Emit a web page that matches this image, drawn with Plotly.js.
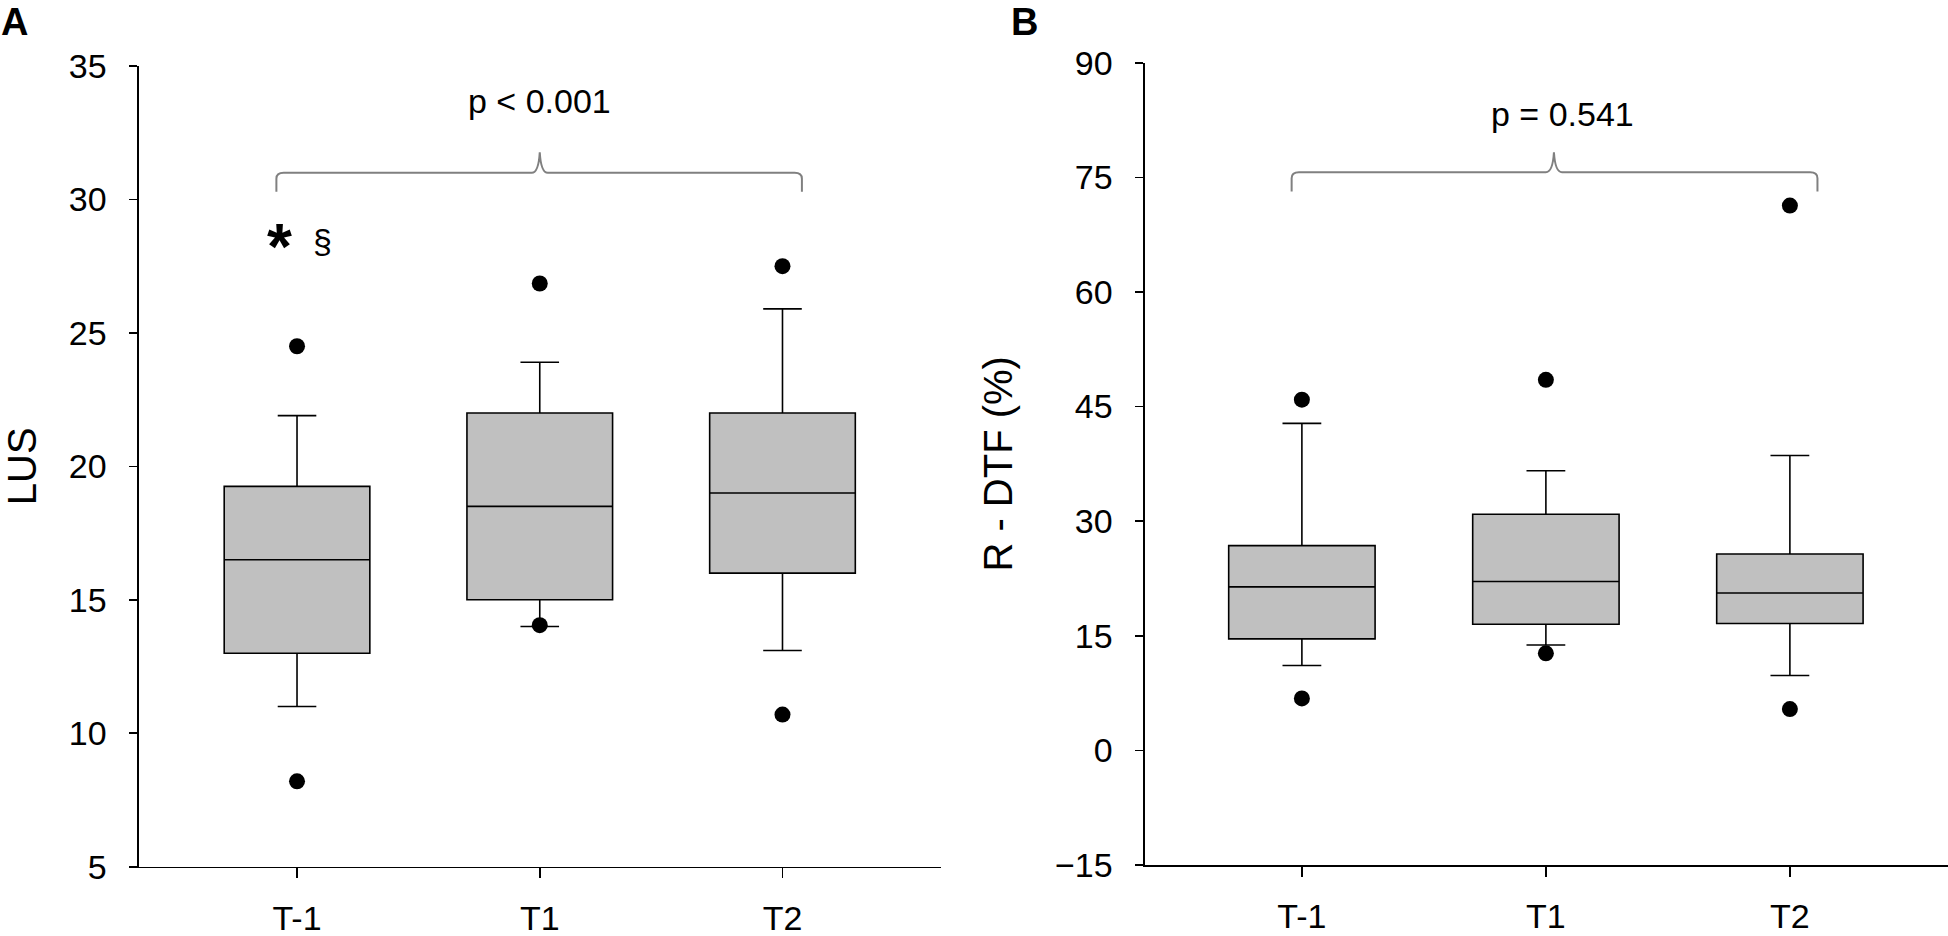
<!DOCTYPE html>
<html>
<head>
<meta charset="utf-8">
<script src="https://cdn.plot.ly/plotly-3.0.1.min.js"></script>
<style>
  html, body { margin: 0; padding: 0; background: #fff; }
  #chart { width: 1948px; height: 936px; }
</style>
</head>
<body>
<div id="chart"></div>
<script>
// ---------- data ----------
const categories = ['T-1', 'T1', 'T2'];

// Panel A: LUS
const lusQ1 = [13, 15, 16];
const lusMedian = [16.5, 18.5, 19];
const lusQ3 = [19.25, 22, 22];
const lusLowerWhisker = [11, 14, 13.1];
const lusUpperWhisker = [21.9, 23.9, 25.9];
const lusOutliers = [[24.5, 8.2], [26.85, 14.05], [27.5, 10.7]];

// Panel B: R - DTF (%)
const dtfQ1 = [14.6, 16.5, 16.6];
const dtfMedian = [21.4, 22.1, 20.6];
const dtfQ3 = [26.8, 30.9, 25.7];
const dtfLowerWhisker = [11.1, 13.8, 9.8];
const dtfUpperWhisker = [42.8, 36.6, 38.6];
const dtfOutliers = [[45.9, 6.8], [48.5, 12.7], [71.3, 5.4]];

const pTexts = ['p < 0.001', 'p = 0.541'];
const axisTitles = ['LUS', 'R - DTF (%)'];
const panelLetters = ['A', 'B'];
const significanceMarks = ['*', '§'];

// ---------- helpers ----------
const W = 1948, H = 936;
const FONT = 'Liberation Sans, Arial, Helvetica, sans-serif';
const positions = categories.map((_, i) => i);

function flattenOutliers(out) {
  const xs = [], ys = [];
  out.forEach((vals, i) => vals.forEach(v => { xs.push(i); ys.push(v); }));
  return { xs, ys };
}

function boxTrace(xa, ya, q1, med, q3, lo, hi) {
  return {
    type: 'box', xaxis: xa, yaxis: ya, orientation: 'v',
    x: positions, q1: q1, median: med, q3: q3,
    lowerfence: lo, upperfence: hi,
    width: 0.6, whiskerwidth: 0.265,
    fillcolor: '#c0c0c0',
    line: { color: '#000000', width: 1.6 },
    boxpoints: false, hoverinfo: 'skip', showlegend: false
  };
}

function outlierTrace(xa, ya, out) {
  const f = flattenOutliers(out);
  return {
    type: 'scatter', mode: 'markers', xaxis: xa, yaxis: ya,
    x: f.xs, y: f.ys,
    marker: { color: '#000000', size: 16, line: { width: 0 } },
    hoverinfo: 'skip', showlegend: false
  };
}

function bracePath(x0, x1, xm, yl, ye, yt, rx, ry, tx) {
  return 'M ' + x0 + ',' + ye +
    ' L ' + x0 + ',' + (yl - ry) +
    ' Q ' + x0 + ',' + yl + ' ' + (x0 + rx) + ',' + yl +
    ' L ' + (xm - tx) + ',' + yl +
    ' Q ' + (xm - 0.15 * tx) + ',' + yl + ' ' + xm + ',' + yt +
    ' Q ' + (xm + 0.15 * tx) + ',' + yl + ' ' + (xm + tx) + ',' + yl +
    ' L ' + (x1 - rx) + ',' + yl +
    ' Q ' + x1 + ',' + yl + ' ' + x1 + ',' + (yl - ry) +
    ' L ' + x1 + ',' + ye;
}

const data = [
  boxTrace('x', 'y', lusQ1, lusMedian, lusQ3, lusLowerWhisker, lusUpperWhisker),
  outlierTrace('x', 'y', lusOutliers),
  boxTrace('x2', 'y2', dtfQ1, dtfMedian, dtfQ3, dtfLowerWhisker, dtfUpperWhisker),
  outlierTrace('x2', 'y2', dtfOutliers)
];

const xCommon = {
  tickvals: positions, ticktext: categories,
  showline: true, linecolor: '#000', linewidth: 1.6,
  ticks: 'outside', ticklen: 10, tickwidth: 1.6, tickcolor: '#000',
  showgrid: false, zeroline: false,
  tickfont: { size: 34, color: '#000', family: FONT },
  ticklabelstandoff: 11, fixedrange: true
};
const yCommon = {
  showline: true, linecolor: '#000', linewidth: 1.6,
  ticks: 'outside', ticklen: 8, tickwidth: 1.6, tickcolor: '#000',
  showgrid: false, zeroline: false,
  tickfont: { size: 34, color: '#000', family: FONT },
  ticklabelstandoff: 16, fixedrange: true
};

const layout = {
  width: W, height: H, autosize: false,
  margin: { l: 0, r: 0, t: 0, b: 0, pad: 0 },
  paper_bgcolor: '#ffffff', plot_bgcolor: '#ffffff',
  font: { family: FONT, color: '#000' },
  showlegend: false, hovermode: false,
  xaxis: Object.assign({}, xCommon, {
    domain: [139 / W, 941 / W], range: [-0.651, 2.653], anchor: 'y'
  }),
  yaxis: Object.assign({}, yCommon, {
    domain: [1 - 866.7 / H, 1 - 66 / H], range: [5, 35], tick0: 5, dtick: 5, anchor: 'x',
    title: { text: axisTitles[0], font: { size: 40, family: FONT, color: '#000' }, standoff: 32 }
  }),
  xaxis2: Object.assign({}, xCommon, {
    domain: [1145 / W, 1], range: [-0.643, 2.648], anchor: 'y2'
  }),
  yaxis2: Object.assign({}, yCommon, {
    domain: [1 - 865 / H, 1 - 62.7 / H], range: [-15, 90], tick0: -15, dtick: 15, anchor: 'x2',
    title: { text: axisTitles[1], font: { size: 40, family: FONT, color: '#000' }, standoff: 30 }
  }),
  shapes: [
    { type: 'path', xref: 'x', yref: 'y', layer: 'above',
      path: bracePath(-0.085, 2.08, 1.0, 31.0, 30.29, 31.77, 0.03, 0.22, 0.033),
      line: { color: '#808080', width: 2 } },
    { type: 'path', xref: 'x2', yref: 'y2', layer: 'above',
      path: bracePath(-0.042, 2.113, 1.033, 75.67, 73.13, 78.28, 0.03, 0.78, 0.033),
      line: { color: '#808080', width: 2 } }
  ],
  annotations: [
    { xref: 'x', yref: 'y', x: 1.0, y: 33.67, text: pTexts[0], showarrow: false,
      xanchor: 'center', yanchor: 'middle', font: { size: 34, family: FONT, color: '#000' } },
    { xref: 'x2', yref: 'y2', x: 1.07, y: 83.3, text: pTexts[1], showarrow: false,
      xanchor: 'center', yanchor: 'middle', font: { size: 34, family: FONT, color: '#000' } },
    { xref: 'x', yref: 'y', x: -0.074, y: 28.2, text: '<b>' + significanceMarks[0] + '</b>', showarrow: false,
      xanchor: 'center', yanchor: 'middle', font: { size: 64, family: FONT, color: '#000' } },
    { xref: 'x', yref: 'y', x: 0.103, y: 28.44, text: significanceMarks[1], showarrow: false,
      xanchor: 'center', yanchor: 'middle', font: { size: 34, family: FONT, color: '#000' } },
    { xref: 'paper', yref: 'paper', x: 0, y: 1, borderpad: 0,
      text: '<b>' + panelLetters[0] + '</b>', showarrow: false,
      xanchor: 'left', yanchor: 'top', font: { size: 38, family: FONT, color: '#000' } },
    { xref: 'paper', yref: 'paper', x: 1010 / W, y: 1, borderpad: 0,
      text: '<b>' + panelLetters[1] + '</b>', showarrow: false,
      xanchor: 'left', yanchor: 'top', font: { size: 38, family: FONT, color: '#000' } }
  ]
};

Plotly.newPlot('chart', data, layout, { staticPlot: true, displayModeBar: false });
</script>
</body>
</html>
